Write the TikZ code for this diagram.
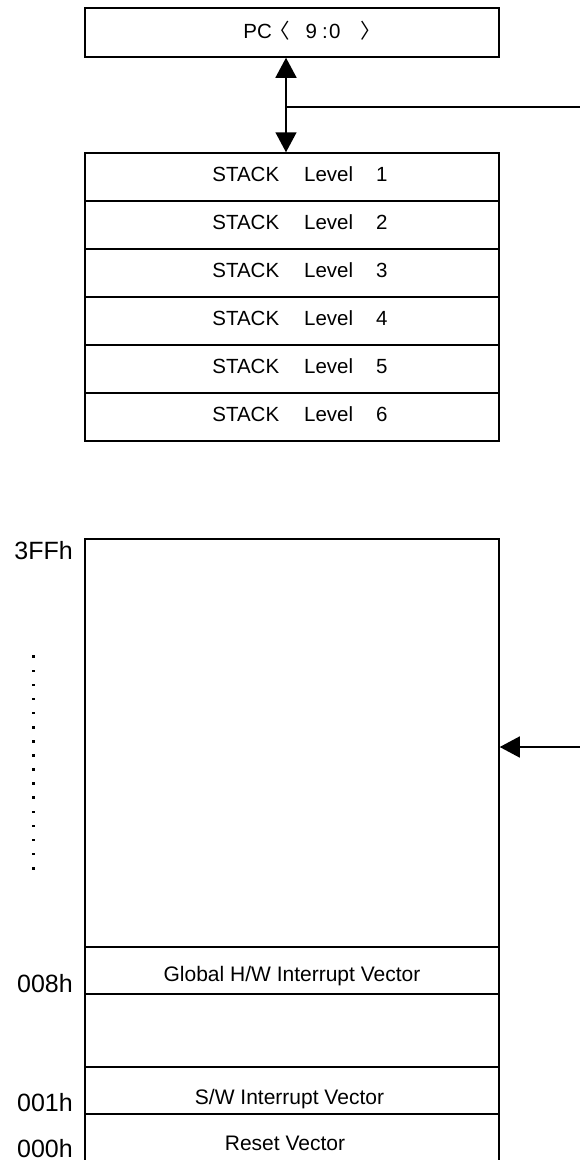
\documentclass[tikz,border=0pt]{standalone}
\usepackage{fontspec}
\setmainfont{Liberation Sans}
\newfontfamily\cjk{Noto Sans CJK SC}
\usetikzlibrary{arrows.meta}
\begin{document}
\begin{tikzpicture}[x=1pt,y=-1pt,
  box/.style={draw, line width=1.5pt, minimum width=414pt, inner sep=0pt,
    text depth=0pt, font=\fontsize{20.5}{24}\selectfont},
  membox/.style={box, font=\fontsize{21}{25}\selectfont},
  th/.style={text height=#1},
  addr/.style={anchor=base east, inner sep=0pt, font=\fontsize{25}{30}\selectfont},
  conn/.style={line width=1.5pt},
  tri/.tip={Triangle[length=20pt,width=21pt]}
]
\useasboundingbox (0,0) rectangle (580,1160);
% PC register
\node[box, th=11pt, minimum height=49pt] (pc) at (292,32.5)
  {PC\hspace{-2.2pt}{\cjk 〈}\hspace{15.6pt}9\hspace{5pt}:\hspace{1.2pt}0\hspace{19.7pt}{\cjk 〉}\hspace*{-40pt}};
% stack
\foreach \i in {1,...,6}{
  \node[box, th=8pt, minimum height=48pt] (s\i) at (292,{153+48*(\i-0.5)})
    {\hspace*{16pt}STACK\hspace{25pt}Level\hspace{23pt}\i};
}
% connectors at the top
\draw[conn, tri-tri] ([xshift=-6pt]pc.south) -- ([xshift=-6pt]s1.north);
\coordinate (j) at (286,107);
\coordinate (pcin) at (580,107);
\draw[conn] (j) -- (pcin);
% program memory
\node[box, minimum height=631pt] (mem) at (292,854.5) {};
\node[membox, th=21pt, minimum height=47pt] (g) at (292,970.5) {Global H/W Interrupt Vector};
\node[box, minimum height=73pt] (blank) at (292,1030.5) {};
\node[membox, th=27pt, minimum height=47pt] (sw) at (292,1090.5) {S/W Interrupt Vector\hspace*{5pt}};
\node[membox, th=16pt, minimum height=56pt] (rst) at (292,1142) {Reset Vector\hspace*{14pt}};
% addresses
\node[addr] (a3ff) at (73,559) {3FFh};
\node[addr] (a008) at (73,992) {008h};
\node[addr] (a001) at (73,1111) {001h};
\node[addr] (a000) at (73,1157) {000h};
% dots
\foreach \k in {0,...,15}{
  \fill ({33.3-1.3},{656.7+14.1*\k-1.3}) rectangle ++(2.6,2.6);
}
% arrow into memory
\coordinate (min) at (580,747);
\draw[conn, -tri] (min) -- (min -| mem.east);
\end{tikzpicture}
\end{document}
